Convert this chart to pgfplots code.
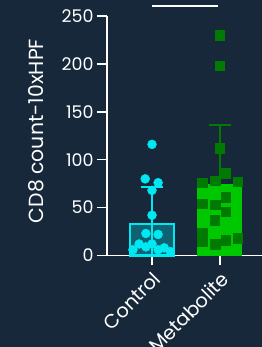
\documentclass[border=0pt]{standalone}
\usepackage{pgfplots}
\pgfplotsset{compat=1.18}
\usepackage{fontspec}
\setmainfont{Poppins}
\definecolor{bg}{RGB}{23,40,58}
\definecolor{ctl}{RGB}{0,232,242}
\definecolor{metfill}{RGB}{0,200,0}
\definecolor{metdark}{RGB}{0,122,0}
\begin{document}
\begin{tikzpicture}
\fill[bg] (0,0) rectangle (262bp,347bp);
\useasboundingbox (0,0) rectangle (262bp,347bp);
\begin{axis}[
 at={(107bp,91.5bp)}, anchor=south west,
 scale only axis, width=155bp, height=239.5bp,
 xmin=-0.662, xmax=1.618, ymin=0, ymax=250,
 axis x line=bottom, axis y line=left,
 axis line style={white, line width=1.5bp, -},
 xtick={0,1}, xticklabels={Control,Metabolite},
 ytick={0,50,...,250},
 tick style={white, line width=1.5bp},
 tick align=outside, major tick length=10bp,
 ticklabel style={white},
 y tick label style={font=\fontsize{17.5}{17.5}\selectfont},
 x tick label style={rotate=45, anchor=north east, font=\fontsize{19.5}{19.5}\selectfont},
 ylabel={CD8 count-10xHPF},
 ylabel style={white, font=\fontsize{20.5}{20.5}\selectfont, at={(axis description cs:-0.455,0.52)}, anchor=center, rotate=0},
 clip=false,
 /pgf/number format/assume math mode=true,
]
% Metabolite error bar (behind opaque bar)
\addplot[metdark, line width=2bp] coordinates {(1,73.6) (1,136)};
\addplot[metdark, line width=2bp] coordinates {(0.84,136) (1.16,136)};
% bars
\addplot[ybar, bar width=44bp, draw=ctl, line width=2bp, fill=ctl, fill opacity=0.3] coordinates {(0,33)};
\addplot[ybar, bar width=44bp, draw=metfill, line width=1bp, fill=metfill] coordinates {(1,73.6)};
% Control error bar
\addplot[ctl, line width=2bp] coordinates {(0,0) (0,71)};
\addplot[ctl, line width=2bp] coordinates {(-0.16,71) (0.16,71)};
% points
\addplot[only marks, mark=*, mark size=4.5bp, mark options={fill=ctl, draw=ctl}] coordinates {
(0,116) (-0.1,80) (0.09,76) (0,68) (0,42) (-0.09,23) (0.09,22)
(-0.28,6) (-0.19,12) (-0.09,9) (0,12) (0.09,6) (0.18,8) (0.27,4)};
\addplot[only marks, mark=square*, mark size=4.7bp, mark options={fill=metdark, draw=metdark}] coordinates {
(1,230) (1,198) (1,112) (1.08,86) (0.74,76) (0.93,78) (1.26,77)
(1.08,61) (0.74,54) (0.93,53) (1.08,46) (0.92,37) (0.74,24) (0.74,15)
(1.08,16) (1.26,18) (0.93,12)};
% significance line
\addplot[white, line width=1.5bp] coordinates {(0,260.5) (0.97,260.5)};
\end{axis}
\end{tikzpicture}
\end{document}
